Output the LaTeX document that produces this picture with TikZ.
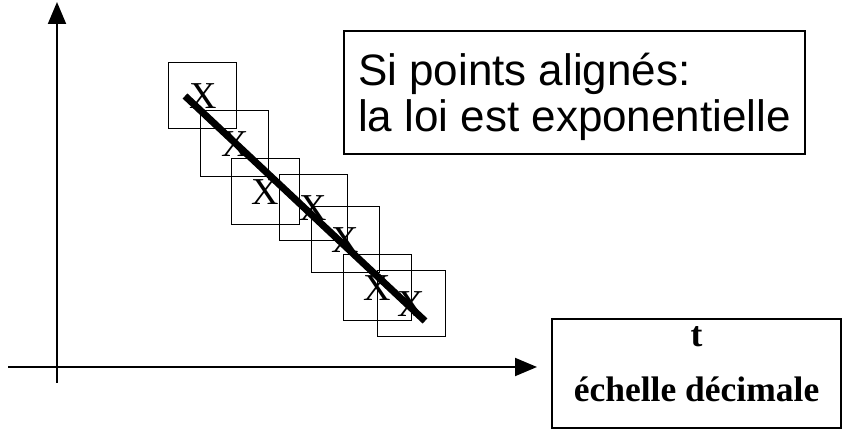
\documentclass[tikz,border=0pt]{standalone}
\usepackage{fontspec}
\newfontfamily\arialfont{Liberation Sans}
\newfontfamily\timesfont{Liberation Serif}
\usetikzlibrary{arrows.meta}

\begin{document}
\begin{tikzpicture}
      [x = 1pt, y = -1pt,
      axis/.style = {line width = 2pt, -{Triangle[length = 22pt, width = 18pt]}},
      pointbox/.style = {
         draw,
         line width = 1.3pt,
         minimum width = 68pt,
         minimum height = 66pt,
         inner sep = 0pt,
         font = \timesfont\fontsize{38}{38}\selectfont
      },
      notebox/.style = {
         draw,
         line width = 2pt,
         minimum width = 461pt,
         minimum height = 123pt,
         align = left,
         font = \arialfont\fontsize{44}{46}\selectfont
      },
      scalebox/.style = {
         draw,
         line width = 2pt,
         minimum width = 289pt,
         minimum height = 109pt,
         align = center,
         font = \timesfont\bfseries\fontsize{35.5}{55}\selectfont
      },
      fitline/.style = {line width = 7pt}]

      \useasboundingbox (0, 0) rectangle (844, 430);

      \coordinate (ybot) at (57, 383);
      \coordinate (ytop) at (57, 2);
      \coordinate (xleft) at (8, 367);
      \coordinate (xright) at (537, 367);
      \draw[axis] (ybot) -- (ytop);
      \draw[axis] (xleft) -- (xright);

      \foreach \cx/\cy [count = \i] in {202.8/95.8, 234.8/143.8, 265.2/191.8,
            313.3/207.8, 345.3/239.8, 377.5/287.8, 411.2/303.7}
         \node[pointbox] (p\i) at (\cx, \cy) {X};

      \coordinate (fitstart) at (185, 96);
      \coordinate (fitend) at (425, 321);
      \draw[fitline] (fitstart) -- (fitend);

      \node[notebox] (note) at (574.5, 92.5)
         {\rule{0pt}{42pt}Si points alignés:\\la loi est exponentielle};
      \node[scalebox] (scale) at (696.5, 373.5)
         {t\\échelle décimale\rule[-18pt]{0pt}{18pt}};

   \end{tikzpicture}
\end{document}
